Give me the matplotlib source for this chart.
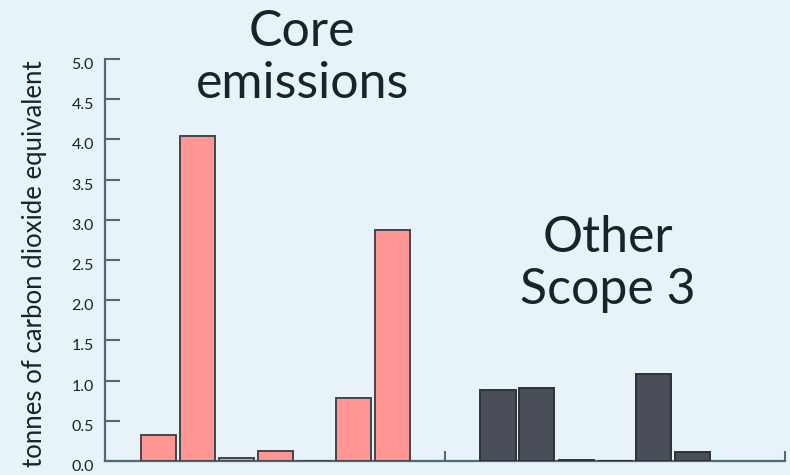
import matplotlib.pyplot as plt
import matplotlib.transforms as mtransforms

# values (tonnes CO2e)
core_values = [0.32, 4.04, 0.04, 0.13, 0.005, 0.78, 2.87]
other_values = [0.88, 0.91, 0.01, 0.005, 1.08, 0.11]
group_titles = ["Core\nemissions", "Other\nScope 3"]
y_ticks = [0.0, 0.5, 1.0, 1.5, 2.0, 2.5, 3.0, 3.5, 4.0, 4.5, 5.0]

BG = "#e7f3f8"
AXIS = "#4f6a75"
TEXT = "#15262b"

plt.rcParams['font.family'] = ['Lato', 'DejaVu Sans']

fig = plt.figure(figsize=(7.9, 4.75), dpi=100)
fig.patch.set_facecolor(BG)
ax = fig.add_axes([105 / 790, 14 / 475, 680 / 790, 402 / 475])
ax.set_facecolor("none")

# each group spans 1 unit on x; bars laid out in slots
step = 39 / 340
offset = 53 / 340
width = 35 / 340

core_x = [offset + i * step for i in range(len(core_values))]
other_x = [1 + offset + i * step for i in range(len(other_values))]

ax.bar(core_x, core_values, width=width, color="#ff9694",
       edgecolor="#41464e", linewidth=1.4, zorder=3)
ax.bar(other_x, other_values, width=width, color="#4a4e59",
       edgecolor="#2d3138", linewidth=1.4, zorder=3)

ax.set_xlim(0, 2)
ax.set_ylim(0, 5)
ax.set_xticks([1, 2])
ax.set_xticklabels([])
ax.set_yticks(y_ticks)
ax.set_yticklabels([f"{t:.1f}" for t in y_ticks])

for side in ["top", "right"]:
    ax.spines[side].set_visible(False)
for side in ["left", "bottom"]:
    ax.spines[side].set_color(AXIS)
    ax.spines[side].set_linewidth(1.6)

ax.tick_params(axis="y", direction="in", length=11, width=1.5, color=AXIS,
               pad=8, labelsize=11.5, labelcolor=TEXT)
ax.tick_params(axis="x", direction="in", length=7.5, width=1.5, color=AXIS)

shift = mtransforms.ScaledTranslation(0, -0.045, fig.dpi_scale_trans)
for lab in ax.get_yticklabels():
    lab.set_transform(lab.get_transform() + shift)

fig.text(35 / 790, 1 - 264 / 475, "tonnes of carbon dioxide equivalent",
         rotation=90, ha="center", va="center", fontsize=18.5, color=TEXT)

fig.text(302 / 790, 1 - 58 / 475, group_titles[0], ha="center", va="center",
         fontsize=36, color=TEXT, linespacing=1.15)
fig.text(608 / 790, 1 - 264 / 475, group_titles[1], ha="center", va="center",
         fontsize=36, color=TEXT, linespacing=1.15)

fig.savefig("out.png", dpi=100, facecolor=BG)
